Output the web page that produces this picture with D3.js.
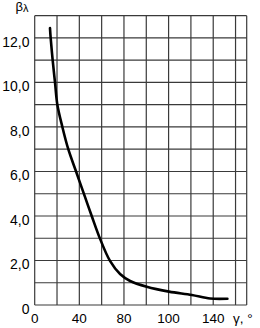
<!DOCTYPE html>
<html>
<head>
<meta charset="utf-8">
<script src="https://cdn.jsdelivr.net/npm/d3@7"></script>
<style>
  body { margin: 0; background: #fff; }
  text { font-family: "Liberation Sans", Arial, sans-serif; fill: #000; }
</style>
</head>
<body>
<div></div>
<script>
// curve: gamma (deg) -> beta_lambda
var gamma = [13.7, 14.3, 16.1, 18.2, 20.3, 24.8, 30.1, 37.0, 44.2, 51.1, 58.7, 67.5, 76.5, 85.5, 100.4, 120.4, 140.8, 157.2, 172.7];
var beta = [12.44, 12.0, 11.0, 10.0, 9.0, 8.0, 7.0, 6.01, 4.98, 4.0, 2.96, 1.98, 1.39, 1.08, 0.82, 0.6, 0.45, 0.29, 0.28];

var xTicks = [0, 40, 80, 120, 160],
    xTickLabels = ["0", "40", "80", "100", "140"];
var yTicks = [0, 2, 4, 6, 8, 10, 12],
    yTickLabels = ["0", "2,0", "4,0", "6,0", "8,0", "10,0", "12,0"];

var width = 260,
    height = 328,
    margin = {top: 15.7, right: 13.3, bottom: 23, left: 34.7};

var svg = d3.select("div")
    .append("svg")
    .attr("width", width)
    .attr("height", height);

var x = d3.scaleLinear().domain([0, 190]).range([margin.left, width - margin.right]),
    y = d3.scaleLinear().domain([0, 13]).range([height - margin.bottom, margin.top]);

// grid
var grid = svg.append("g")
    .attr("stroke", "#3a3a3a")
    .attr("stroke-width", 1.2)
    .attr("fill", "none");

grid.selectAll("line.v")
    .data(d3.range(0, 181, 20).concat([190]))
    .enter().append("line")
    .attr("class", "v")
    .attr("x1", function (d) { return x(d); })
    .attr("x2", function (d) { return x(d); })
    .attr("y1", y(0))
    .attr("y2", y(13));

grid.selectAll("line.h")
    .data(d3.range(0, 14))
    .enter().append("line")
    .attr("class", "h")
    .attr("x1", x(0))
    .attr("x2", x(190))
    .attr("y1", function (d) { return y(d); })
    .attr("y2", function (d) { return y(d); });

// curve
var line = d3.line()
    .x(function (d, i) { return x(gamma[i]); })
    .y(function (d, i) { return y(beta[i]); })
    .curve(d3.curveCatmullRom.alpha(0.5));

svg.append("path")
    .datum(beta)
    .attr("fill", "none")
    .attr("stroke", "#000")
    .attr("stroke-width", 2.6)
    .attr("stroke-linecap", "round")
    .attr("d", line);

// tick labels
svg.append("g")
    .selectAll("text")
    .data(yTicks)
    .enter().append("text")
    .attr("x", 29.5)
    .attr("y", function (d) { return y(d) + 9; })
    .attr("text-anchor", "end")
    .style("font-size", "14px")
    .text(function (d, i) { return yTickLabels[i]; });

svg.append("g")
    .selectAll("text")
    .data(xTicks)
    .enter().append("text")
    .attr("x", function (d) { return x(d); })
    .attr("y", 322.5)
    .attr("text-anchor", "middle")
    .style("font-size", "13.5px")
    .text(function (d, i) { return xTickLabels[i]; });

// axis titles
var yTitle = svg.append("text")
    .attr("x", 15.5)
    .attr("y", 10.5)
    .style("font-size", "13px");
yTitle.append("tspan").text("β");
yTitle.append("tspan").attr("dy", 1.5).style("font-size", "11px").text("λ");

svg.append("text")
    .attr("x", 233)
    .attr("y", 322.5)
    .style("font-size", "13.5px")
    .text("γ, °");
</script>
</body>
</html>
